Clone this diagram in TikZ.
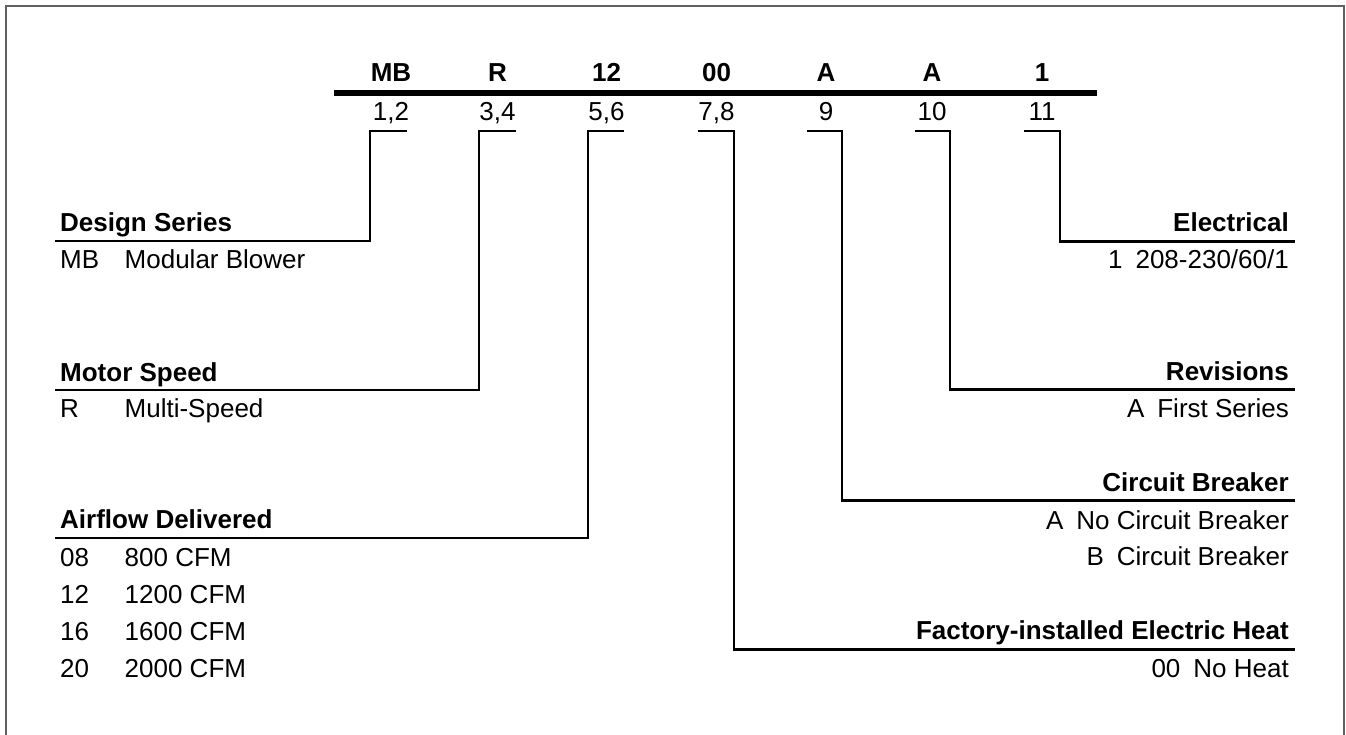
\documentclass[tikz,border=0pt]{standalone}
\usepackage{fontspec}
\setmainfont{Liberation Sans}
\begin{document}
\begin{tikzpicture}[x=1pt,y=-1pt,
  txt/.style={inner sep=0pt, font=\fontsize{26}{30}\selectfont},
  bold/.style={inner sep=0pt, font=\fontsize{26}{30}\selectfont\bfseries},
  conn/.style={line width=2.8pt, line join=miter},
  bar/.style={line width=6.5pt},
  frame/.style={draw=black!62, line width=1.7pt}]
\useasboundingbox (0,0) rectangle (1346,735);
% frame (open at the bottom)
\draw[frame] (6,760) -- (6,6) -- (1344,6) -- (1344,760);
% top bar
\coordinate (barL) at (334,93);
\coordinate (barR) at (1097,93);
\draw[bar] (barL) -- (barR);
% code letters and positions
\foreach \n/\x/\c/\p in {1/391/MB/{1,2}, 2/497.5/R/{3,4}, 3/606.5/12/{5,6}, 4/716.5/00/{7,8}, 5/826/A/9, 6/932/A/10, 7/1042/1/11}{
  \node[bold, anchor=base] (c\n) at (\x,82) {\c};
  \node[txt, anchor=base] (p\n) at (\x,120.5) {\p};
}
% ---------- left side ----------
\node[bold, anchor=base west] (hds) at (60,232) {Design Series};
\node[txt, anchor=base west] (ds1a) at (60,269) {MB};
\node[txt, anchor=base west] (ds1b) at (124.5,269) {Modular Blower};

\node[bold, anchor=base west] (hms) at (60,381) {Motor Speed};
\node[txt, anchor=base west] (ms1a) at (60,417) {R};
\node[txt, anchor=base west] (ms1b) at (124.5,417) {Multi-Speed};

\node[bold, anchor=base west] (haf) at (60,528.5) {Airflow Delivered};
\foreach \y/\a/\b in {566/08/800 CFM, 603/12/1200 CFM, 640/16/1600 CFM, 677/20/2000 CFM}{
  \node[txt, anchor=base west] (af\a a) at (60,\y) {\a};
  \node[txt, anchor=base west] (af\a b) at (124.5,\y) {\b};
}
% ---------- right side ----------
\node[bold, anchor=base east] (hel) at (1289,232) {Electrical};
\node[txt, anchor=base east] (el1) at (1289,269) {1\hspace{13pt}208-230/60/1};

\node[bold, anchor=base east] (hrv) at (1289,380.5) {Revisions};
\node[txt, anchor=base east] (rv1) at (1289,417) {A\hspace{13pt}First Series};

\node[bold, anchor=base east] (hcb) at (1289,491.5) {Circuit Breaker};
\node[txt, anchor=base east] (cb1) at (1289,529) {A\hspace{13pt}No Circuit Breaker};
\node[txt, anchor=base east] (cb2) at (1289,565.5) {B\hspace{13pt}Circuit Breaker};

\node[bold, anchor=base east] (hfh) at (1289,639.5) {Factory-installed Electric Heat};
\node[txt, anchor=base east] (fh1) at (1289,677) {00\hspace{13pt}No Heat};

% ---------- connectors ----------
\coordinate (t1) at (407,131);  \coordinate (k1) at (370,241);   \coordinate (e1) at (55,241);
\coordinate (t2) at (516,131);  \coordinate (k2) at (479,390);   \coordinate (e2) at (55,390);
\coordinate (t3) at (624,131);  \coordinate (k3) at (588,538);   \coordinate (e3) at (55,538);
\coordinate (t4) at (698,131);  \coordinate (k4) at (734,649.3); \coordinate (e4) at (1295,649.3);
\coordinate (t5) at (807,131);  \coordinate (k5) at (842,500.7); \coordinate (e5) at (1295,500.7);
\coordinate (t6) at (915,131);  \coordinate (k6) at (950,389.5); \coordinate (e6) at (1295,389.5);
\coordinate (t7) at (1024,131); \coordinate (k7) at (1060,241.5);\coordinate (e7) at (1295,241.5);
\foreach \i in {1,...,7}{
  \draw[conn] (t\i) -| (k\i) -- (e\i);
}
\end{tikzpicture}
\end{document}
